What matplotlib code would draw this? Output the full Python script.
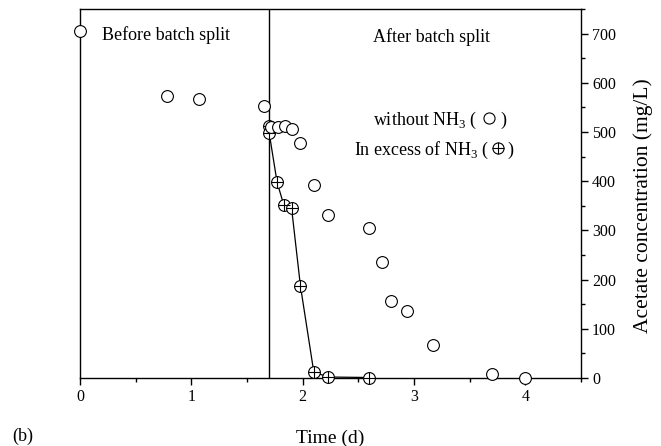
import matplotlib
matplotlib.use("Agg")
import matplotlib.pyplot as plt
from matplotlib.ticker import MultipleLocator

plt.rcParams['font.family'] = ['Liberation Serif', 'DejaVu Sans']
plt.rcParams['mathtext.fontset'] = 'custom'
plt.rcParams['mathtext.rm'] = 'Liberation Serif'

# without NH3 (open circles)
t_without = [0.0, 0.78, 1.07, 1.65, 1.72, 1.78, 1.84, 1.90, 1.98, 2.10, 2.23, 2.60, 2.71, 2.79, 2.94, 3.17, 3.70, 4.00]
c_without = [706, 574, 568, 552, 511, 510, 513, 506, 477, 392, 331, 304, 235, 157, 137, 67, 8, 0]

# in excess of NH3 (crossed circles)
t_nh3 = [1.70, 1.70, 1.77, 1.83, 1.90, 1.98, 2.10, 2.23, 2.60]
c_nh3 = [513, 497, 398, 352, 346, 187, 12, 2, 1]

split_time = 1.7

W, H = 661, 446
fig = plt.figure(figsize=(W/100, H/100), dpi=100)
ax = fig.add_axes([80/W, 1-378/H, 501/W, 369/H])

ax.axvline(split_time, color='black', lw=1.0)

ms = 8.5
ax.plot(t_nh3, c_nh3, '-', color='black', lw=0.9, zorder=2)
ax.plot(t_nh3, c_nh3, 'o', ms=ms, mfc='white', mec='black', mew=0.8, ls='none', zorder=3, clip_on=False)
ax.plot(t_nh3, c_nh3, '+', ms=ms, mec='black', mew=0.8, ls='none', zorder=4, clip_on=False)
ax.plot(t_without, c_without, 'o', ms=ms, mfc='white', mec='black', mew=0.8, ls='none', zorder=5, clip_on=False)

ax.set_xlim(0, 4.5)
ax.set_ylim(0, 750)

ax.yaxis.tick_right()
ax.xaxis.set_major_locator(MultipleLocator(1))
ax.xaxis.set_minor_locator(MultipleLocator(0.5))
ax.yaxis.set_major_locator(MultipleLocator(100))
ax.yaxis.set_minor_locator(MultipleLocator(50))
ax.tick_params(axis='both', which='major', direction='out', length=5, width=1, labelsize=11.5, colors='black')
ax.tick_params(axis='both', which='minor', direction='out', length=3, width=1)
ax.tick_params(axis='y', which='both', left=False, right=True, labelleft=False, labelright=True)
ax.tick_params(axis='x', which='both', top=False, pad=3)
ax.tick_params(axis='y', which='major', pad=3)
for s in ax.spines.values():
    s.set_linewidth(1.0)

ax.set_xlabel('Time (d)', fontsize=14, labelpad=18)
fig.text(643/W, 1-206/H, 'Acetate concentration (mg/L)', fontsize=15.5,
         rotation=90, ha='center', va='center')

fs = 13
fig.text(102/W, 1-35/H, 'Before batch split', fontsize=fs, va='center', ha='left')
fig.text(432/W, 1-37/H, 'After batch split', fontsize=fs, va='center', ha='center')

# annotation key
fig.text(477/W, 1-120/H, 'without NH$_3$ (', fontsize=fs, va='center', ha='right')
fig.text(500/W, 1-120/H, ')', fontsize=fs, va='center', ha='left')
fig.text(489/W, 1-150/H, 'In excess of NH$_3$ (', fontsize=fs, va='center', ha='right')
fig.text(507/W, 1-150/H, ')', fontsize=fs, va='center', ha='left')
key = fig.add_axes([0, 0, 1, 1], facecolor='none')
key.set_xlim(0, W); key.set_ylim(H, 0); key.axis('off')
key.plot([489], [118], 'o', ms=8, mfc='white', mec='black', mew=0.8)
key.plot([498], [148], 'o', ms=8, mfc='white', mec='black', mew=0.8)
key.plot([498], [148], '+', ms=8, mec='black', mew=0.8)

fig.text(12/W, 1-436/H, '(b)', fontsize=fs, va='center', ha='left')

fig.savefig('out.png', dpi=100)
